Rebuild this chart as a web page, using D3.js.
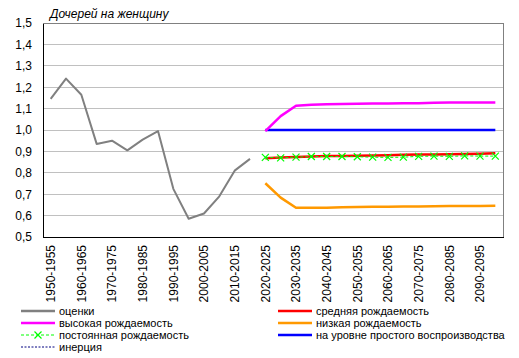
<!DOCTYPE html>
<html><head><meta charset="utf-8">
<script src="https://cdn.jsdelivr.net/npm/d3@7"></script>
<style>body{margin:0;background:#fff}svg{display:block;font-family:"Liberation Sans",Arial,sans-serif}</style>
</head><body><svg id="c" width="519" height="358"></svg>
<script>
const periods = [];
for (let y = 1950; y < 2100; y += 5) periods.push(y + "-" + (y + 5));
const tickLabels = periods.filter((d, i) => i % 2 === 0);
const yTicks = [0.5,0.6,0.7,0.8,0.9,1.0,1.1,1.2,1.3,1.4,1.5];

const estimates = [1.145,1.24,1.165,0.935,0.95,0.905,0.955,0.995,0.725,0.585,0.61,0.69,0.81,0.865];
const medium   = [0.868,0.872,0.874,0.876,0.878,0.879,0.880,0.881,0.882,0.884,0.885,0.886,0.887,0.888,0.889,0.891];
const high     = [0.995,1.065,1.113,1.118,1.120,1.121,1.123,1.124,1.124,1.125,1.125,1.127,1.128,1.128,1.128,1.128];
const low      = [0.751,0.684,0.637,0.637,0.637,0.639,0.640,0.641,0.641,0.642,0.643,0.644,0.645,0.645,0.645,0.646];
const constant = [0.872,0.870,0.873,0.876,0.876,0.876,0.875,0.873,0.872,0.873,0.877,0.878,0.877,0.879,0.878,0.878];
const replacement = [1.0,1.0,1.0,1.0,1.0,1.0,1.0,1.0,1.0,1.0,1.0,1.0,1.0,1.0,1.0,1.0];
const inertia  = [];

const projStart = periods.indexOf("2020-2025");
const svg = d3.select("#c");
const m = {l:43, r:503, t:23, b:237};
const x = d3.scaleBand().domain(periods).range([m.l, m.r]);
const y = d3.scaleLinear().domain([0.5,1.5]).range([m.b, m.t]);
const cx = i => x(periods[i]) + x.bandwidth()/2;

// gridlines
svg.append("g").selectAll("line").data(yTicks.slice(1)).join("line")
  .attr("x1", m.l).attr("x2", m.r).attr("y1", d=>y(d)).attr("y2", d=>y(d))
  .attr("stroke", "#c0c0c0").attr("stroke-width", 1).attr("shape-rendering","crispEdges");
// plot border top/right
svg.append("path").attr("d", `M${m.l},${m.t+0.5}H${m.r+0.5}V${m.b}`)
  .attr("fill","none").attr("stroke","#808080").attr("shape-rendering","crispEdges");

// y axis
const ya = d3.axisLeft(y).tickValues(yTicks).tickSize(0).tickPadding(11)
  .tickFormat(d => d3.format(".1f")(d).replace(".", ","));
const gy = svg.append("g").attr("transform", `translate(${m.l},0)`).call(ya);
gy.select(".domain").attr("stroke","#000").attr("shape-rendering","crispEdges");
gy.selectAll("text").attr("font-size", 12).attr("fill","#000").attr("font-family","Liberation Sans, Arial, sans-serif");

// x axis
const xa = d3.axisBottom(x).tickValues(tickLabels).tickSize(0).tickPadding(0);
const gx = svg.append("g").attr("transform", `translate(0,${m.b})`).call(xa);
gx.select(".domain").attr("stroke","#000").attr("shape-rendering","crispEdges");
gx.selectAll("text").attr("font-size", 12).attr("fill","#000")
  .attr("font-family","Liberation Sans, Arial, sans-serif")
  .attr("transform","rotate(-90)").attr("text-anchor","end")
  .attr("x", -8).attr("y", 0).attr("dy","0.35em");

// title
svg.append("text").attr("x", 50).attr("y", 18).attr("font-size", 12)
  .attr("font-style","italic").text("Дочерей на женщину");

const line = d3.line().x(d=>cx(d.i)).y(d=>y(d.v));
const toPts = (arr, off) => arr.map((v,k)=>({i:k+off, v}));

const series = [
  {name:"оценки", data:estimates, off:0, color:"#808080", w:2},
  {name:"средняя рождаемость", data:medium, off:projStart, color:"#ff0000", w:2.5},
  {name:"высокая рождаемость", data:high, off:projStart, color:"#ff00ff", w:2.5},
  {name:"низкая рождаемость", data:low, off:projStart, color:"#ff9900", w:2.5},
  {name:"постоянная рождаемость", data:constant, off:projStart, color:"#00ff00", w:1, dash:"3,2", marker:true},
  {name:"на уровне простого воспроизводства", data:replacement, off:projStart, color:"#0000ff", w:2.5},
  {name:"инерция", data:inertia, off:projStart, color:"#000080", w:1, dash:"2,1.5"}
];
const drawOrder = [0,5,2,3,1,4,6];
drawOrder.forEach(k => {
  const s = series[k];
  if (!s.data.length) return;
  svg.append("path").datum(toPts(s.data, s.off)).attr("d", line)
    .attr("fill","none").attr("stroke", s.color).attr("stroke-width", s.w)
    .attr("stroke-dasharray", s.dash || null).attr("stroke-linejoin","round");
  if (s.marker) {
    svg.append("g").selectAll("path").data(toPts(s.data, s.off)).join("path")
      .attr("d", d => { const px=cx(d.i), py=y(d.v), r=3.5; return `M${px-r},${py-r}L${px+r},${py+r}M${px-r},${py+r}L${px+r},${py-r}`; })
      .attr("stroke", s.color).attr("stroke-width", 1.2);
  }
});

// legend
const legendPos = [[21,311],[278,311],[21,323],[278,323],[21,335],[278,335],[21,347]];
series.forEach((s, k) => {
  const [lx, ly] = legendPos[k];
  const g = svg.append("g").attr("transform", `translate(${lx},${ly})`);
  g.append("line").attr("x1",0).attr("x2",34).attr("y1",0).attr("y2",0)
    .attr("stroke", s.color).attr("stroke-width", s.w === 1 ? 1 : 2.5)
    .attr("stroke-dasharray", s.dash || null);
  if (s.marker) g.append("path").attr("d","M13.5,-3.5L20.5,3.5M13.5,3.5L20.5,-3.5").attr("stroke", s.color).attr("stroke-width",1.2);
  g.append("text").attr("x", 38).attr("y", 0).attr("dy","0.35em").attr("font-size", 11).text(s.name);
});
</script></body></html>
